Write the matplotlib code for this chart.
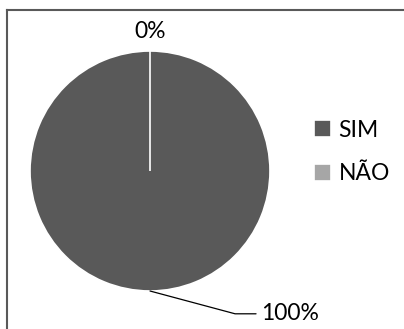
import matplotlib
matplotlib.use("Agg")
import matplotlib.pyplot as plt
from matplotlib.lines import Line2D
import numpy as np

categories = ["SIM", "NÃO"]
values = [100, 0]
pct_labels = ["100%", "0%"]
colors = ["#595959", "#a6a6a6"]

plt.rcParams['font.family'] = ['Lato', 'DejaVu Sans']

W, H = 404, 329
fig = plt.figure(figsize=(W / 100, H / 100), dpi=100)

# pie axes: center (150,171) px, radius 120 px
cx, cy, r = 150, 171, 120
ax = fig.add_axes([(cx - r) / W, (H - cy - r) / H, 2 * r / W, 2 * r / H])
wedges, _ = ax.pie(values, colors=colors, startangle=90, counterclock=False,
                   radius=1, wedgeprops=dict(edgecolor="white", linewidth=1.2))
ax.set_xlim(-1, 1)
ax.set_ylim(-1, 1)
ax.set_aspect("equal")
ax.axis("off")

fs = 16.5
# labels
for w, lab in zip(wedges, pct_labels):
    ang = np.deg2rad((w.theta1 + w.theta2) / 2)
    x, y = np.cos(ang), np.sin(ang)
    if w.theta2 - w.theta1 < 1:
        ax.text(x * 1.0, y * 1.0 + 0.16, lab, ha="center", va="center", fontsize=fs, color="black",
                clip_on=False)
    else:
        ax.annotate(lab, xy=(x, y), xytext=(x + 0.93, y - 0.19),
                    ha="left", va="center", fontsize=fs, color="black",
                    arrowprops=dict(arrowstyle="-", color="black", lw=0.9,
                                    connectionstyle="angle,angleA=0,angleB=-15,rad=0",
                                    shrinkA=2, shrinkB=0),
                    annotation_clip=False)

# legend
fig.legend(wedges, categories, loc="center left", bbox_to_anchor=(305 / W, 1 - 152 / H),
           frameon=False, fontsize=fs, handlelength=0.72, handleheight=0.72,
           handletextpad=0.35, labelspacing=1.0, borderaxespad=0)

# frame lines (cropped chart border)
bc = "#595959"
fig.add_artist(Line2D([7 / W, 1], [1 - 9.5 / H, 1 - 9.5 / H], transform=fig.transFigure, color=bc, lw=1.5))
fig.add_artist(Line2D([7 / W, 7 / W], [0, 1 - 9.5 / H], transform=fig.transFigure, color=bc, lw=1.5))

fig.savefig("out.png", dpi=100)
